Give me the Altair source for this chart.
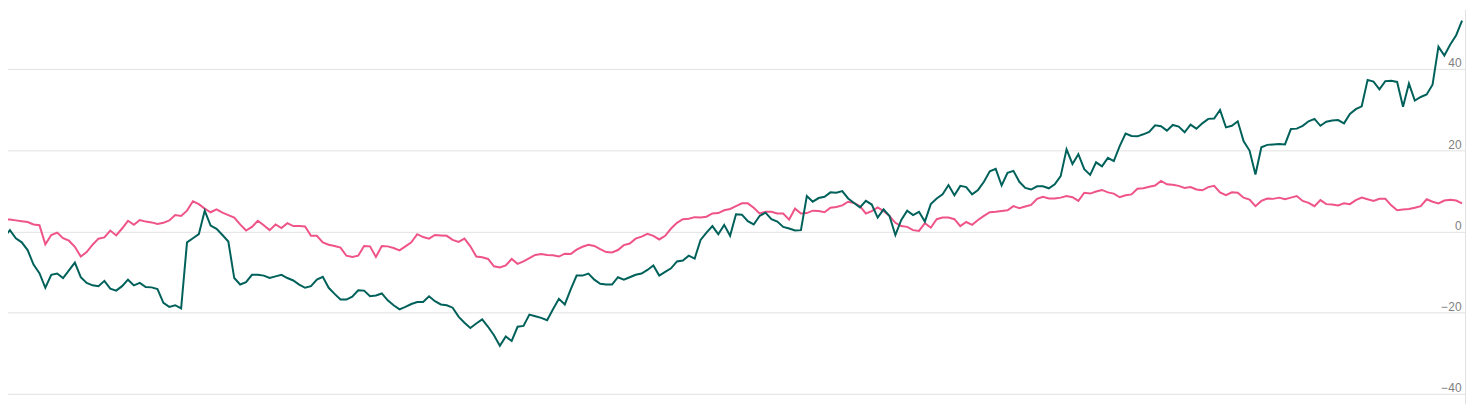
import altair as alt
import pandas as pd

teal_1 = [-1.5, 0.3, -1.7, -2.7, -4.6, -8.2, -10.3, -13.9, -10.7, -10.4,
          -11.5, -9.6, -7.7, -11.3, -12.7, -13.3, -13.5, -12.2, -14.1, -14.6,
          -13.5, -11.9, -13.3, -12.7, -13.7, -13.8, -14.2, -17.6, -18.6, -18.2,
          -19.0, -2.7, -1.7, -0.7, 5.1, 1.4, 0.6, -0.9, -2.5, -11.5,
          -13.1, -12.5, -10.7, -10.7, -10.9, -11.5, -11.1, -10.7, -11.5, -12.1]
teal_2 = [-13.1, -13.9, -13.5, -11.9, -11.2, -13.9, -15.4, -16.8, -16.8, -16.1,
          -14.5, -14.6, -16.0, -15.8, -15.3, -17.0, -18.2, -19.2, -18.6, -17.9,
          -17.4, -17.4, -16.0, -17.2, -18.0, -18.2, -18.8, -21.0, -22.5, -23.8,
          -22.7, -21.7, -23.5, -25.6, -28.2, -25.9, -27.0, -23.5, -23.3, -20.5,
          -20.9, -21.3, -21.9, -19.2, -16.6, -18.0, -14.3, -10.9, -10.9, -10.4]
teal_3 = [-11.9, -12.9, -13.1, -13.1, -11.3, -11.9, -11.3, -10.7, -10.4, -9.5,
          -8.4, -10.9, -10.0, -9.1, -7.4, -7.2, -6.0, -6.7, -2.1, -0.3,
          1.3, -0.7, 1.6, -1.1, 4.2, 4.1, 2.5, 1.7, 3.8, 4.6,
          3.0, 2.4, 1.1, 0.7, 0.2, 0.3, 8.7, 7.3, 8.2, 8.5,
          9.6, 9.5, 9.9, 8.1, 7.0, 5.9, 7.5, 6.6, 3.4]
teal_4 = [5.4, 3.8, -0.9, 2.8, 5.1, 4.0, 4.8, 2.4, 6.7, 8.1,
          9.1, 11.4, 8.9, 11.2, 10.9, 9.1, 10.2, 12.2, 14.8, 15.4,
          11.3, 14.4, 14.9, 12.2, 10.7, 10.3, 11.1, 11.1, 10.6, 11.6,
          13.6, 20.2, 16.6, 19.0, 15.3, 13.9, 17.0, 16.0, 18.1, 17.3,
          21.0, 24.1, 23.5, 23.4, 23.9, 24.5, 26.1, 25.9]
teal_5 = [24.8, 26.2, 25.8, 24.4, 26.3, 25.3, 26.6, 27.7, 27.8, 29.9,
          25.6, 26.0, 27.1, 22.2, 19.9, 14.0, 20.7, 21.3, 21.4, 21.5,
          21.4, 25.2, 25.3, 26.0, 27.1, 27.7, 26.0, 27.0, 27.3, 27.4,
          26.6, 28.9, 30.1, 30.8, 37.3, 36.9, 35.0, 37.0, 37.1, 36.8,
          30.7, 36.4, 32.2, 33.1, 33.7, 36.1, 45.5, 43.3, 46.0, 48.3,
          51.9]

pink_1 = [3.0, 2.9, 2.7, 2.5, 2.3, 1.7, 1.5, -3.2, -0.9, -0.3,
          -1.7, -2.3, -3.8, -6.2, -5.1, -3.3, -1.8, -1.5, 0.2, -1.0,
          0.7, 2.6, 1.6, 2.8, 2.4, 2.2, 1.8, 2.1, 2.7, 4.0,
          3.8, 5.1, 7.4, 6.7, 5.6, 4.7, 5.4, 4.6, 4.0, 3.4,
          1.7, 0.2, 1.1, 2.6, 1.5, 0.3, 1.7, 0.8, 2.0, 1.3]
pink_2 = [1.3, 1.2, -1.1, -1.1, -2.7, -3.3, -3.6, -4.0, -6.0, -6.3,
          -6.0, -3.6, -3.7, -6.3, -3.6, -3.7, -4.1, -4.7, -3.7, -2.7,
          -0.7, -1.4, -1.8, -0.9, -1.0, -1.1, -2.1, -2.6, -1.8, -3.7,
          -6.2, -6.4, -6.8, -8.6, -8.9, -8.4, -6.8, -8.0, -7.4, -6.6,
          -5.8, -5.6, -5.8, -5.9, -6.2, -5.5, -5.6, -4.5, -3.8, -3.3]
pink_3 = [-3.6, -4.4, -5.1, -5.2, -4.6, -3.4, -3.0, -1.8, -1.3, -0.6,
          -1.1, -2.0, -1.1, 0.7, 2.1, 3.0, 3.1, 3.5, 3.4, 3.6,
          4.4, 4.5, 5.2, 5.5, 6.2, 6.9, 6.9, 5.8, 4.4, 4.8,
          4.8, 4.4, 4.4, 2.9, 5.6, 4.4, 4.5, 5.1, 5.0, 4.7,
          5.8, 6.0, 6.4, 7.3, 7.0, 6.2, 4.4, 5.0, 5.9]
pink_4 = [5.0, 3.8, 2.1, 1.3, 1.1, 0.3, 0.1, 2.0, 0.9, 3.0,
          3.4, 3.4, 3.0, 1.3, 2.3, 1.6, 2.8, 3.8, 4.7, 4.8,
          5.0, 5.2, 6.2, 5.7, 6.1, 6.5, 8.0, 8.5, 8.1, 8.1,
          8.3, 8.7, 8.4, 7.5, 9.5, 9.3, 9.8, 10.2, 9.6, 9.3,
          8.4, 8.9, 9.1, 10.5, 10.6, 11.0, 11.3, 12.4]
pink_5 = [11.6, 11.5, 11.2, 10.7, 10.9, 10.3, 10.1, 10.9, 11.2,
          9.6, 8.9, 9.6, 9.5, 8.3, 7.8, 6.2, 7.5, 8.1, 8.0,
          8.3, 7.9, 8.3, 8.7, 7.5, 7.0, 6.2, 7.7, 6.7, 6.6,
          6.4, 6.9, 6.7, 7.7, 8.3, 7.9, 7.5, 8.0, 8.0, 6.4,
          5.2, 5.4, 5.5, 5.8, 6.2, 7.9, 7.3, 6.9, 7.6, 7.8,
          7.6, 6.9]

series_names = ["Series A", "Series B"]
series_colors = ["#00615b", "#ef5486"]
tick_values = [-40, -20, 0, 20, 40]

teal = teal_1 + teal_2 + teal_3 + teal_4 + teal_5
pink = pink_1 + pink_2 + pink_3 + pink_4 + pink_5

rows = []
for i, v in enumerate(pink):
    rows.append({"idx": i, "value": v, "series": series_names[1], "order": 0})
for i, v in enumerate(teal):
    rows.append({"idx": i, "value": v, "series": series_names[0], "order": 1})
df = pd.DataFrame(rows)

n = max(len(teal), len(pink)) - 1

chart = (
    alt.Chart(df)
    .mark_line(strokeWidth=2, interpolate="linear")
    .encode(
        x=alt.X("idx:Q", axis=None, scale=alt.Scale(domain=[0, n + 0.5], nice=False, zero=False)),
        y=alt.Y(
            "value:Q",
            scale=alt.Scale(domain=[-42.47, 54.71], nice=False, zero=False),
            axis=alt.Axis(
                orient="right",
                values=tick_values,
                title=None,
                grid=True,
                gridColor="#e2e2e2",
                gridWidth=1,
                domain=True,
                domainColor="#e2e2e2",
                ticks=False,
                tickSize=0,
                labelAlign="right",
                labelBaseline="alphabetic",
                labelPadding=-4,
                labelOffset=-2,
                labelColor="#808080",
                labelFontSize=12,
                labelFont="Liberation Sans",
            ),
        ),
        color=alt.Color(
            "series:N",
            scale=alt.Scale(domain=series_names, range=series_colors),
            legend=None,
        ),
        detail="series:N",
        order=alt.Order("order:Q"),
    )
    .properties(width=1470, height=397, padding={"left": -8, "top": 0, "right": 0, "bottom": 0})
    .configure_view(stroke=None)
)

chart.save("out.html", embed_options={"renderer": "svg", "actions": False})
